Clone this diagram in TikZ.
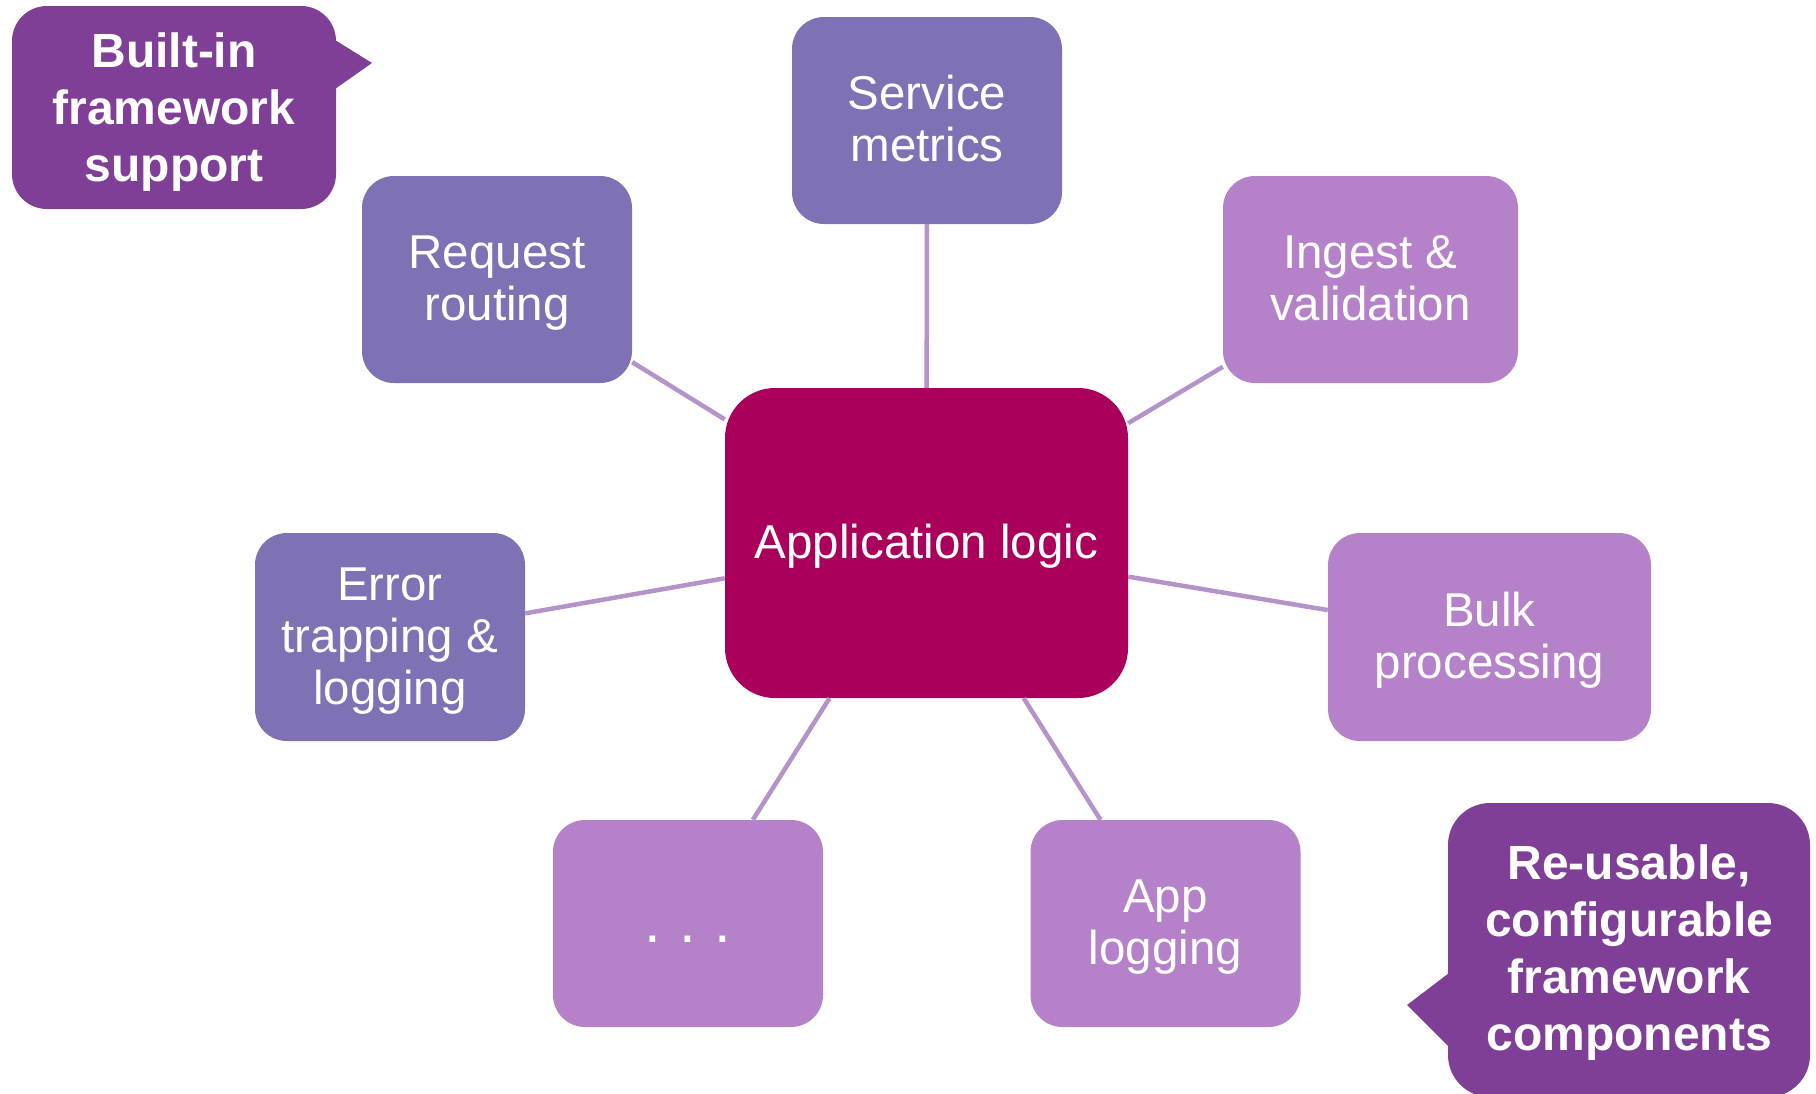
\documentclass[tikz,border=0pt]{standalone}
\usepackage{fontspec}
\setmainfont{Liberation Sans}
\definecolor{boxdark}{RGB}{128,112,180}
\definecolor{boxlight}{RGB}{181,130,201}
\definecolor{corefill}{RGB}{170,0,91}
\definecolor{calloutfill}{RGB}{127,63,151}
\definecolor{linkc}{RGB}{180,148,200}
\newcommand{\Ls}{\rule[-0.21em]{0pt}{1.06em}}
\newcommand{\Lb}{\rule[-0.16em]{0pt}{1.06em}}
\begin{document}
\begin{tikzpicture}[x=1pt,y=-1pt,
 comp/.style={rectangle, rounded corners=32pt, inner sep=0pt, minimum width=270pt, minimum height=207pt, text=white, align=center, font=\fontsize{47.5}{52}\selectfont},
 darkcomp/.style={comp, fill=boxdark},
 lightcomp/.style={comp, fill=boxlight},
 corebox/.style={comp, fill=corefill, rounded corners=50pt, minimum width=403pt, minimum height=310pt},
 spoke/.style={draw=linkc, line width=4.5pt},
 note/.style={rectangle, fill=calloutfill, inner sep=0pt, rounded corners=35pt, text=white, align=center, font=\bfseries\fontsize{48}{57}\selectfont}
]
\clip (0,0) rectangle (1816,1093);
\fill[white] (0,0) rectangle (1816,1093);

\node[corebox] (app) at (926.5,543) {\Ls Application logic};
\node[darkcomp] (metrics) at (927,120.5) {\Ls Service\\\Ls metrics};
\node[darkcomp] (routing) at (497,279.5) {\Ls Request\\\Ls routing};
\node[lightcomp, minimum width=295pt] (ingest) at (1370.5,279.5) {\Ls Ingest \&\\\Ls validation};
\node[darkcomp, minimum height=208pt] (error) at (390,637) {\Ls Error\\\Ls trapping \&\\\Ls logging};
\node[lightcomp, minimum width=323pt, minimum height=208pt] (bulk) at (1489.5,637) {\Ls Bulk\\\Ls processing};
\node[lightcomp, font=\fontsize{60}{66}\selectfont] (more) at (688,923.5) {\Ls .\hspace{18.3pt}.\hspace{18.3pt}.};
\node[lightcomp] (applog) at (1165.5,923.5) {\Ls App\\\Ls logging};

\foreach \n in {metrics,routing,ingest,error,bulk,more,applog}
  \draw[spoke] (app) -- (\n);

\node[note, minimum width=324pt, minimum height=203pt] (builtin) at (174,107.5) {\Lb Built-in\\\Lb framework\\\Lb support};
\fill[calloutfill] (335,40) -- (372,63) -- (335,89) -- cycle;

\node[note, minimum width=362pt, minimum height=294pt, rounded corners=42pt] (reuse) at (1629,950) {\Ls Re-usable,\\\Ls configurable\\\Ls framework\\\Ls components};
\fill[calloutfill] (1449,973) -- (1407,1005) -- (1449,1047) -- cycle;
\end{tikzpicture}
\end{document}
